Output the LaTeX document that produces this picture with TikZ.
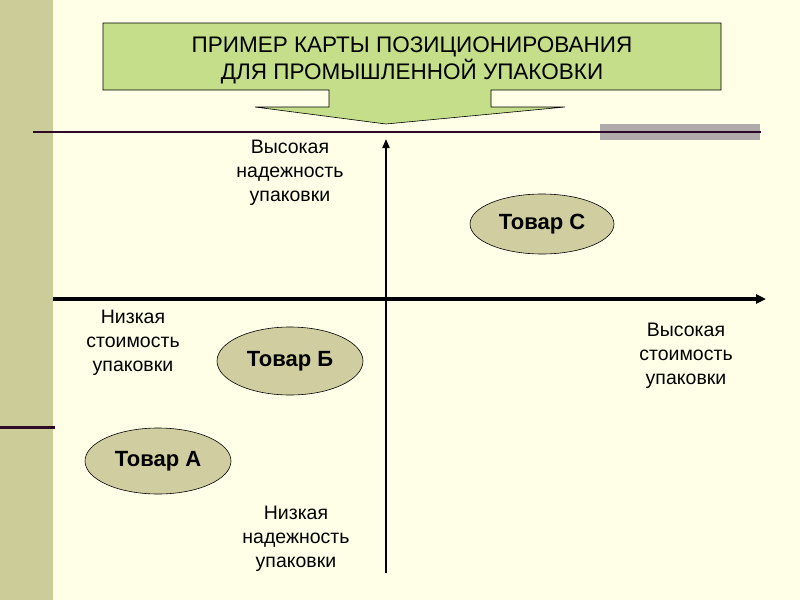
\documentclass[tikz,border=0pt]{standalone}
\usepackage{fontspec}
\setmainfont{Liberation Sans}
\usetikzlibrary{shapes.geometric,arrows.meta}
\definecolor{bg}{RGB}{255,255,232}
\definecolor{olive}{RGB}{204,204,153}
\definecolor{titlegreen}{RGB}{196,222,138}
\definecolor{darkline}{RGB}{45,10,40}
\definecolor{greybar}{RGB}{176,170,170}
\definecolor{ellfill}{RGB}{208,206,160}
\tikzset{
  lbl/.style={align=center, font=\fontsize{19.5}{24}\selectfont, inner sep=0pt},
  prod/.style={ellipse, draw=black, line width=0.6pt, fill=ellfill, minimum width=146pt, minimum height=64pt, inner sep=0pt, font=\fontsize{22}{24}\selectfont\bfseries},
  axis/.style={draw=black, -{Triangle[length=9pt,width=7pt]}}
}
\begin{document}
\begin{tikzpicture}[x=1pt,y=-1pt]
\useasboundingbox (0,0) rectangle (800,600);
\fill[bg] (0,0) rectangle (800,600);
\fill[olive] (0,0) rectangle (53,600);
\draw[darkline, line width=3pt] (0,427) -- (55,427);
% title arrow
\draw[black, line width=0.6pt, fill=titlegreen]
  (103,23) -- (721,23) -- (721,90) -- (491,90) -- (491,107) -- (565,107)
  -- (386,124) -- (255,107) -- (329,107) -- (329,90) -- (103,90) -- cycle;
\node[font=\fontsize{22.5}{27}\selectfont, align=center, inner sep=0pt] (title) at (412,60)
  {ПРИМЕР КАРТЫ ПОЗИЦИОНИРОВАНИЯ\\ДЛЯ ПРОМЫШЛЕННОЙ УПАКОВКИ};
% grey bar and top line
\fill[greybar] (600,124) rectangle (760,140);
\draw[darkline, line width=2.2pt] (33,132) -- (761,132);
% axes
\coordinate (xs) at (53,299);
\coordinate (xe) at (766,299);
\coordinate (ys) at (386,573);
\coordinate (ye) at (386,139);
\draw[axis, line width=3.2pt, -{Triangle[length=10pt,width=9pt]}] (xs) -- (xe);
\draw[axis, line width=2pt] (ys) -- (ye);
% labels
\node[lbl] (hr) at (290,173) {Высокая\\надежность\\упаковки};
\node[lbl] (lc) at (133,343) {Низкая\\стоимость\\упаковки};
\node[lbl] (hc) at (686,356) {Высокая\\стоимость\\упаковки};
\node[lbl] (lr) at (296,539) {Низкая\\надежность\\упаковки};
% products
\node[prod, minimum width=144pt, minimum height=60pt] (c) at (542,224) {Товар С};
\node[prod, minimum height=68pt] (b) at (290,361) {Товар Б};
\node[prod, minimum height=66pt] (a) at (158,461) {Товар А};
\end{tikzpicture}
\end{document}
